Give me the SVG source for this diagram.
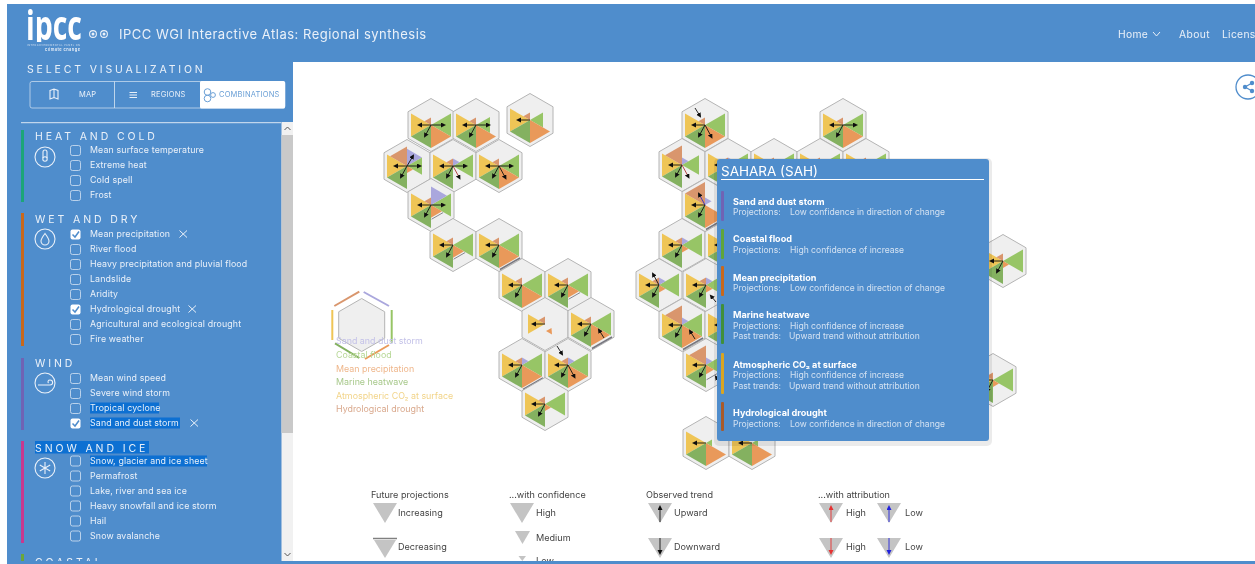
<svg xmlns="http://www.w3.org/2000/svg" width="1255" height="564" viewBox="0 0 1255 564">
<style>
text{font-family:"Inter","Open Sans","Liberation Sans",sans-serif;fill:#eaf1f9}
.it{font-size:8.8px;letter-spacing:.15px}
.cat{font-size:10.5px;letter-spacing:2.9px}
.cb{fill:none;stroke:#c5d9ee;stroke-width:.9}
.ck{fill:#fff}
.ckm{fill:none;stroke:#508dcc;stroke-width:1.5}
.x{stroke:#eaf1f9;stroke-width:1;fill:none}
.ic{fill:none;stroke:#eaf1f9;stroke-width:1.1}
.hl{fill:#0b6fd2}
.tab{font-size:7.5px;letter-spacing:.2px}
.a{stroke:#111;stroke-width:.9;fill:none;marker-end:url(#h)}
.lg{font-size:9.1px;fill:#444}
.tri{fill:#c4c4c4}
.pn{font-size:9.1px;fill:#fff;font-weight:700}
.pv{font-size:8.55px;fill:#d3e2f2}
.lt{font-size:8.9px}
</style>
<defs>
<filter id="soft" x="0" y="0" width="100%" height="100%"><feGaussianBlur stdDeviation=".3"/></filter>
<clipPath id="logoclip"><rect x="20" y="8" width="70" height="34"/></clipPath>
<marker id="h" markerUnits="userSpaceOnUse" markerWidth="6" markerHeight="6" refX="3" refY="2.5" orient="auto"><path d="M0 0L5 2.5L0 5Z" fill="#111"/></marker>
<marker id="hr" markerUnits="userSpaceOnUse" markerWidth="6" markerHeight="6" refX="3" refY="2.5" orient="auto"><path d="M0 0L5 2.5L0 5Z" fill="#e53030"/></marker>
<marker id="hb" markerUnits="userSpaceOnUse" markerWidth="6" markerHeight="6" refX="3" refY="2.5" orient="auto"><path d="M0 0L5 2.5L0 5Z" fill="#2222dd"/></marker>
<polygon id="hex" points="0,-26.5 23,-13.25 23,13.25 0,26.5 -23,13.25 -23,-13.25" fill="#efefef" stroke="#b4b4b4" stroke-width="1"/>
<path id="P" d="M0 0L0-23L20-11.5Z" fill="#aaa7dd"/>
<path id="G" d="M0 0L20-11.5L20 11.5Z" fill="#97c566"/>
<path id="O" d="M0 0L20 11.5L0 23Z" fill="#e9995a"/>
<path id="D" d="M0 0L0 23L-20 11.5Z" fill="#84b161"/>
<path id="Y" d="M0 0L-20 11.5L-20-11.5Z" fill="#efc557"/>
<path id="B" d="M0 0L-20-11.5L0-23Z" fill="#d9966d"/>
<path id="Bar" d="M1 24.5L21 13" stroke="#77777f" stroke-width="1.5" fill="none"/>
<path id="L" class="a" d="M0 0H-12"/>
<path id="R" class="a" d="M0 0H13"/>
<path id="DL" class="a" d="M0 0L-6 11"/>
<path id="DR" class="a" d="M0 0L6.5 12"/>
<path id="UR" class="a" d="M0 0L6-10"/>
<path id="UL" class="a" d="M0 0L-6-11"/>
<g id="base"><use href="#hex"/><use href="#Y"/><use href="#B" transform="scale(.33)"/><use href="#G"/><use href="#D"/></g>
<g id="baseP"><use href="#base"/><use href="#P" transform="scale(.33)"/></g>
<path id="tdown" class="tri" d="M0 0H24L12 20Z"/>
</defs>
<g filter="url(#soft)">
<rect width="1255" height="564" fill="#fff"/>
<rect x="7" y="4" width="1248" height="58" fill="#508dcc"/>
<rect x="7" y="62" width="286" height="502" fill="#508dcc"/>
<rect x="281.500" y="122" width="11.500" height="442" fill="#f1f1f1"/>
<rect x="281.500" y="135" width="11.500" height="298" fill="#c9c9c9"/>
<path d="M284.500 130L287.500 127L290.500 130M284.500 553L287.500 556L290.500 553" fill="none" stroke="#555" stroke-width="1"/>

<g id="header">
<text x="26" y="40" clip-path="url(#logoclip)" style="font-family:'Open Sans',sans-serif;font-size:41px;font-weight:700;fill:#fff" textLength="56" lengthAdjust="spacingAndGlyphs">ipcc</text>
<text x="27" y="45.500" style="font-size:2.5px" textLength="53" fill-opacity=".8">INTERGOVERNMENTAL PANEL ON</text>
<text x="45" y="51" style="font-size:4px;font-weight:600" textLength="35">climate change</text>
<circle cx="93" cy="34" r="3.400" class="ic"/><circle cx="104" cy="34" r="3.400" class="ic"/><circle cx="93" cy="34" r="1.500" fill="#eaf1f9"/><circle cx="104" cy="34" r="1.500" fill="#eaf1f9"/>
<text x="119" y="38.500" style="font-size:13px;letter-spacing:.5px">IPCC WGI Interactive Atlas: Regional synthesis</text>
<text x="1118" y="37.500" style="font-size:10.300px;letter-spacing:.3px">Home</text>
<path d="M1153 32L1156.500 36L1160 32" class="x"/>
<text x="1179" y="37.500" style="font-size:10.300px;letter-spacing:.4px">About</text>
<text x="1222" y="37.500" style="font-size:10.300px;letter-spacing:.3px">Licens</text>
</g>

<g id="share">
<circle cx="1248" cy="87" r="12" fill="#fff" stroke="#508dcc" stroke-width="1.300"/>
<path d="M1245 87L1252 83M1245 87L1252 91" stroke="#508dcc" stroke-width="1.200"/>
<circle cx="1245" cy="87" r="2.200" fill="#508dcc"/><circle cx="1252" cy="83" r="2.200" fill="#508dcc"/><circle cx="1252" cy="91" r="2.200" fill="#508dcc"/>
</g>

<g id="tabs">
<text x="27" y="73" style="font-size:10.500px;letter-spacing:2.850px">SELECT VISUALIZATION</text>
<rect x="30" y="81.500" width="255" height="26.500" rx="2" fill="none" stroke="#c5d9ee" stroke-width=".8"/>
<path d="M114.500 81.500V108" stroke="#dbe7f3" stroke-width=".8"/>
<rect x="200" y="81" width="85" height="27.500" rx="1.500" fill="#fff"/>
<path d="M50 90.500L54 89L58 90.500V99L54 97.500L50 99ZM54 89V97.500" class="ic"/>
<path d="M129.500 92.500H137M129.500 95H137M129.500 97.500H137" class="ic"/>
<circle cx="207.500" cy="92" r="3.300" fill="none" stroke="#6ba0d6"/><circle cx="207.500" cy="98.500" r="3.300" fill="none" stroke="#6ba0d6"/><circle cx="213" cy="95" r="2.400" fill="none" stroke="#6ba0d6"/>
<text x="79" y="97" class="tab">MAP</text>
<text x="151" y="97" class="tab">REGIONS</text>
<text x="219" y="97" class="tab" style="fill:#6ba0d6">COMBINATIONS</text>
<path d="M21 122.700H281" stroke="#dbe7f3" stroke-width="1"/>
</g>

<g id="cat-heat">
<rect x="21" y="130" width="3" height="72" fill="#1fa578"/>
<text x="35" y="140" class="cat">HEAT AND COLD</text>
<circle cx="45" cy="157" r="10" class="ic"/><circle cx="45" cy="159" r="2.200" class="ic"/><path d="M43 158V152A2 2 0 0 1 47 152V158" class="ic"/>
<rect x="70.500" y="145.500" width="10" height="10" rx="2" class="cb"/><text x="90" y="153.300" class="it">Mean surface temperature</text>
<rect x="70.500" y="160.500" width="10" height="10" rx="2" class="cb"/><text x="90" y="168.300" class="it">Extreme heat</text>
<rect x="70.500" y="175.500" width="10" height="10" rx="2" class="cb"/><text x="90" y="183.300" class="it">Cold spell</text>
<rect x="70.500" y="190.500" width="10" height="10" rx="2" class="cb"/><text x="90" y="198.300" class="it">Frost</text>
</g>

<g id="cat-wet">
<rect x="21" y="213" width="3" height="133" fill="#c8681f"/>
<text x="35" y="223" class="cat">WET AND DRY</text>
<circle cx="45" cy="239" r="10" class="ic"/><path d="M45 233.500C48 237.500 49 239 49 241A4 4 0 0 1 41 241C41 239 42 237.500 45 233.500Z" class="ic"/>
<rect x="70.500" y="229.500" width="10" height="10" rx="2" class="ck"/><path d="M72.500 234.500L75 237L79 231.500" class="ckm"/><text x="90" y="237.300" class="it">Mean precipitation</text><path d="M179.500 230.500L187 237.500M187 230.500L179.500 237.500" class="x"/>
<rect x="70.500" y="244.500" width="10" height="10" rx="2" class="cb"/><text x="90" y="252.300" class="it">River flood</text>
<rect x="70.500" y="259.500" width="10" height="10" rx="2" class="cb"/><text x="90" y="267.300" class="it">Heavy precipitation and pluvial flood</text>
<rect x="70.500" y="274.500" width="10" height="10" rx="2" class="cb"/><text x="90" y="282.300" class="it">Landslide</text>
<rect x="70.500" y="289.500" width="10" height="10" rx="2" class="cb"/><text x="90" y="297.300" class="it">Aridity</text>
<rect x="70.500" y="304.500" width="10" height="10" rx="2" class="ck"/><path d="M72.500 309.500L75 312L79 306.500" class="ckm"/><text x="90" y="312.300" class="it">Hydrological drought</text><path d="M188.500 305.500L196 312.500M196 305.500L188.500 312.500" class="x"/>
<rect x="70.500" y="319.500" width="10" height="10" rx="2" class="cb"/><text x="90" y="327.300" class="it">Agricultural and ecological drought</text>
<rect x="70.500" y="334.500" width="10" height="10" rx="2" class="cb"/><text x="90" y="342.300" class="it">Fire weather</text>
</g>

<g id="cat-wind">
<rect x="21" y="358" width="3" height="72" fill="#6f63b4"/>
<text x="35" y="367" class="cat">WIND</text>
<circle cx="45" cy="383" r="10" class="ic"/><path d="M38 385H50C53.500 385 53.500 380 50 380C48 380 47.500 382 48.500 383" class="ic"/>
<rect x="70.500" y="373.500" width="10" height="10" rx="2" class="cb"/><text x="90" y="381.300" class="it">Mean wind speed</text>
<rect x="70.500" y="388.500" width="10" height="10" rx="2" class="cb"/><text x="90" y="396.300" class="it">Severe wind storm</text>
<rect x="90" y="402.500" width="69" height="11" class="hl"/>
<rect x="70.500" y="403.500" width="10" height="10" rx="2" class="cb"/><text x="90" y="411.300" class="it">Tropical cyclone</text>
<rect x="90" y="417.500" width="90" height="11" class="hl"/>
<rect x="70.500" y="418.500" width="10" height="10" rx="2" class="ck"/><path d="M72.500 423.500L75 426L79 420.500" class="ckm"/><text x="90" y="426.300" class="it">Sand and dust storm</text><path d="M190.500 419.500L198 426.500M198 419.500L190.500 426.500" class="x"/>
</g>

<g id="cat-snow">
<rect x="21" y="441" width="3" height="102" fill="#c8398f"/>
<rect x="35" y="441" width="114" height="12.500" class="hl"/>
<text x="35" y="451.500" class="cat">SNOW AND ICE</text>
<circle cx="45" cy="468" r="10" class="ic"/><path d="M45 462V474M39.800 465L50.200 471M39.800 471L50.200 465" class="ic"/>
<rect x="90" y="455.500" width="117" height="11" class="hl"/>
<rect x="70.500" y="456" width="10" height="10" rx="2" class="cb"/><text x="90" y="464.300" class="it">Snow, glacier and ice sheet</text>
<rect x="70.500" y="471" width="10" height="10" rx="2" class="cb"/><text x="90" y="479.300" class="it">Permafrost</text>
<rect x="70.500" y="486" width="10" height="10" rx="2" class="cb"/><text x="90" y="494.300" class="it">Lake, river and sea ice</text>
<rect x="70.500" y="501" width="10" height="10" rx="2" class="cb"/><text x="90" y="509.300" class="it">Heavy snowfall and ice storm</text>
<rect x="70.500" y="516" width="10" height="10" rx="2" class="cb"/><text x="90" y="524.300" class="it">Hail</text>
<rect x="70.500" y="531" width="10" height="10" rx="2" class="cb"/><text x="90" y="539.300" class="it">Snow avalanche</text>
</g>

<g id="cat-coastal">
<rect x="21" y="554" width="3" height="7" fill="#6aa63a"/>
<text x="35" y="565.500" class="cat">COASTAL</text>
</g>

<g id="hex-legend">
<use href="#hex" x="361.700" y="325"/>
<path d="M363.700 292L389 306" stroke="#aaa7dd" stroke-width="2" fill="none"/>
<path d="M391.700 310V342.700" stroke="#97c566" stroke-width="2" fill="none"/>
<path d="M389 345L365 359" stroke="#e9995a" stroke-width="2" fill="none"/>
<path d="M359.300 358L335 343.300" stroke="#84b161" stroke-width="2" fill="none"/>
<path d="M332.300 340V310" stroke="#efc557" stroke-width="2" fill="none"/>
<path d="M334.300 306L359.300 291.700" stroke="#d9966d" stroke-width="2" fill="none"/>
<text x="336" y="344" class="lt" style="fill:#c3c1e8">Sand and dust storm</text>
<text x="336" y="358" class="lt" style="fill:#b6d795">Coastal flood</text>
<text x="336" y="372" class="lt" style="fill:#efb78c">Mean precipitation</text>
<text x="336" y="385" class="lt" style="fill:#a8c98c">Marine heatwave</text>
<text x="336" y="399" class="lt" style="fill:#f2d489">Atmospheric CO₂ at surface</text>
<text x="336" y="412" class="lt" style="fill:#d9a88c">Hydrological drought</text>
</g>

<g id="hexes-left">
<g id="h1" transform="translate(431 125)"><use href="#base"/><use href="#O"/><use href="#L"/><use href="#R"/><use href="#DL"/></g>
<g id="h2" transform="translate(476 125)"><use href="#hex"/><use href="#Y"/><use href="#B" transform="scale(.33)"/><use href="#G" transform="scale(.7)"/><use href="#O"/><use href="#D"/><use href="#L"/><use href="#R"/><use href="#DL"/></g>
<g id="h3" transform="translate(530 120)"><use href="#hex"/><use href="#Y"/><use href="#B" transform="scale(.33)"/><use href="#G" transform="scale(.65)"/><use href="#O"/><use href="#D"/><use href="#L"/></g>
<g id="h4" transform="translate(407 166)"><use href="#hex"/><use href="#Y"/><use href="#B" transform="scale(.85)"/><use href="#P" transform="scale(.75)"/><use href="#G" transform="scale(.75)"/><use href="#O" transform="scale(.3)"/><use href="#D"/><use href="#L"/><use href="#R"/><use href="#DL"/><use href="#UR"/></g>
<g id="h5" transform="translate(453 166)"><use href="#baseP"/><path d="M0 0L6.500 12" class="a" style="stroke:#a33"/><use href="#L"/><use href="#R"/><use href="#DL"/></g>
<g id="h6" transform="translate(499 166)"><use href="#base"/><use href="#O"/><use href="#L"/><use href="#R"/><use href="#DL"/><use href="#DR"/></g>
<g id="h7" transform="translate(431 205)"><use href="#base"/><use href="#P" transform="scale(.8)"/><use href="#O" transform="scale(.55)"/><use href="#Bar" transform="scale(.58)"/><use href="#L"/><use href="#R"/><use href="#DL"/></g>
<g id="h8" transform="translate(453 245)"><use href="#base"/><use href="#O" transform="scale(.55)"/><use href="#Bar" transform="scale(.58)"/><use href="#L"/><use href="#DL"/></g>
<g id="h9" transform="translate(499 245)"><use href="#base"/><use href="#O"/><use href="#Bar"/><use href="#L"/><use href="#DL"/></g>
<g id="h10" transform="translate(522 285)"><use href="#base"/><use href="#O"/><use href="#L"/><use href="#DL"/></g>
<g id="h11" transform="translate(568 285)"><use href="#base"/><use href="#O" transform="scale(.55)"/><use href="#Bar" transform="scale(.58)"/><use href="#L"/><use href="#DL"/></g>
<g id="h12" transform="translate(545 324)"><use href="#hex"/><use href="#Y" transform="scale(.85)"/><use href="#B" transform="scale(.33)"/><path d="M1 7L6.500 4L7 10.500Z" fill="#e9995a"/><use href="#L"/></g>
<g id="h13" transform="translate(591 324)"><use href="#base"/><use href="#O" transform="scale(.95)"/><use href="#Bar"/><path d="M13 14L8 6" class="a"/><use href="#L"/><use href="#DL"/></g>
<g id="h14" transform="translate(522 365)"><use href="#baseP"/><use href="#O"/><use href="#Bar"/><use href="#L"/><use href="#DL"/></g>
<g id="h15" transform="translate(568 365)"><use href="#baseP"/><use href="#O"/><use href="#L"/><use href="#DL"/><use href="#DR"/></g>
<g id="h16" transform="translate(545 404)"><use href="#base"/><use href="#O" transform="scale(.3)"/><use href="#L"/><use href="#DL"/></g>
<path id="h12-arrow" d="M557 346L562 354" class="a"/>
</g>

<g id="hexes-right">
<g id="h17" transform="translate(705 125)"><use href="#base"/><use href="#O"/><use href="#L"/><use href="#DL"/><use href="#DR"/><path d="M-10-17L-5-9" class="a"/></g>
<g id="h18" transform="translate(682 165)"><use href="#hex"/><use href="#Y"/><use href="#B" transform="scale(.85)"/><use href="#P" transform="scale(.33)"/><use href="#G" transform="scale(.85)"/><use href="#D"/><use href="#L"/><use href="#DL"/><path d="M0 0L6.500 12" class="a" style="stroke:#a33"/></g>
<g id="h19" transform="translate(728 165)"><use href="#baseP"/><use href="#L"/></g>
<g id="h20" transform="translate(705 205)"><use href="#hex"/><use href="#Y"/><use href="#B"/><use href="#P" transform="scale(.33)"/><use href="#O"/><use href="#Bar"/><use href="#D"/><path d="M0 0L-6-11" class="a" style="stroke:#3a2fc0"/><use href="#L"/><use href="#DL"/></g>
<g id="h21" transform="translate(682 245)"><use href="#baseP"/><use href="#O" transform="scale(.33)"/><use href="#L"/><use href="#DL"/></g>
<g id="h22" transform="translate(728 245)"><use href="#baseP"/><use href="#L"/></g>
<g id="h23" transform="translate(659 285)"><use href="#baseP"/><use href="#O" transform="scale(.33)"/><use href="#L"/><use href="#DL"/><use href="#UL"/></g>
<g id="h24" transform="translate(706 285)"><use href="#baseP"/><use href="#O" transform="scale(.33)"/><use href="#L"/><use href="#DL"/><path d="M10 17L5 11" class="a"/></g>
<g id="h25" transform="translate(682 325)"><use href="#hex"/><use href="#Y"/><use href="#B" transform="scale(.85)"/><use href="#P" transform="scale(.33)"/><use href="#G"/><use href="#O"/><use href="#Bar"/><use href="#D"/><path d="M13 14L8 6" class="a"/><use href="#L"/><use href="#DL"/></g>
<g id="h26" transform="translate(728 325)"><use href="#baseP"/><use href="#L"/></g>
<g id="h27" transform="translate(706 365)"><use href="#hex"/><use href="#Y"/><use href="#B" transform="scale(.85)"/><use href="#P" transform="scale(.33)"/><use href="#G"/><use href="#O" transform="scale(.4)"/><use href="#Bar" transform="scale(.6)"/><use href="#D"/><use href="#L"/><use href="#DL"/><path d="M15 19L10 12" class="a"/></g>
<g id="h28" transform="translate(706 443)"><use href="#hex"/><use href="#Y"/><use href="#G" transform="scale(.3)"/><use href="#O"/><use href="#D"/><use href="#L"/></g>
<g id="h29" transform="translate(752 443)"><use href="#hex"/><use href="#Y"/><use href="#G" transform="scale(.3)"/><use href="#O"/><use href="#D"/><use href="#L"/></g>
<g id="h30" transform="translate(843 125)"><use href="#base"/><use href="#O"/><use href="#L"/><use href="#R"/><use href="#DL"/></g>
<g id="h31" transform="translate(774 165)"><use href="#base"/></g>
<g id="h32" transform="translate(820 165)"><use href="#base"/></g>
<g id="h33" transform="translate(866 165)"><use href="#base"/></g>
<g id="h34" transform="translate(1003 261)"><use href="#base"/><use href="#O" transform="scale(.3)"/><use href="#L"/><use href="#DL"/></g>
<g id="h35" transform="translate(993 380)"><use href="#base"/><use href="#O" transform="scale(.3)"/><use href="#L"/><use href="#DL"/></g>
</g>

<g id="key">
<text x="371" y="497.500" class="lg">Future projections</text>
<text x="509" y="497.500" class="lg">...with confidence</text>
<text x="646" y="497.500" class="lg">Observed trend</text>
<text x="818" y="497.500" class="lg">...with attribution</text>
<use href="#tdown" x="373" y="503"/><text x="398" y="516" class="lg">Increasing</text>
<path d="M373 538.500H397" stroke="#808080" stroke-width="1.500"/><path class="tri" d="M374 540H396L385 558Z"/><text x="398" y="550" class="lg">Decreasing</text>
<use href="#tdown" x="510" y="503"/><text x="536" y="516" class="lg">High</text>
<path class="tri" d="M515 531H530L522.500 544Z"/><text x="536" y="541" class="lg">Medium</text>
<path class="tri" d="M518.500 556H526L522.300 561Z"/><text x="536" y="564" class="lg">Low</text>
<use href="#tdown" x="648" y="503"/><path d="M660 522V507" class="a"/><text x="674" y="516" class="lg">Upward</text>
<use href="#tdown" x="648" y="538"/><path d="M660 538V553" class="a"/><text x="674" y="550" class="lg">Downward</text>
<use href="#tdown" x="819" y="503"/><path d="M831 522V507" class="a" style="stroke:#e53030;marker-end:url(#hr)"/><text x="846" y="516" class="lg">High</text>
<use href="#tdown" x="877" y="503"/><path d="M889 522V507" class="a" style="stroke:#2222dd;marker-end:url(#hb)"/><text x="905" y="516" class="lg">Low</text>
<use href="#tdown" x="819" y="538"/><path d="M831 538V553" class="a" style="stroke:#e53030;marker-end:url(#hr)"/><text x="846" y="550" class="lg">High</text>
<use href="#tdown" x="877" y="538"/><path d="M889 538V553" class="a" style="stroke:#2222dd;marker-end:url(#hb)"/><text x="905" y="550" class="lg">Low</text>
</g>
<rect x="7" y="561" width="1248" height="3" fill="#508dcc"/>

<g id="panel">
<rect x="714" y="158" width="278" height="288" rx="5" fill="#000" fill-opacity=".08"/>
<rect x="717" y="159" width="272" height="282" rx="3" fill="#508dcc"/>
<text x="721" y="176" style="font-size:13.500px;fill:#fff">SAHARA (SAH)</text>
<path d="M721 179.500H984" stroke="#fff" stroke-width="1.200"/>
<rect x="721" y="191" width="3" height="30" rx="1" fill="#6f63b4"/>
<rect x="721" y="229" width="3" height="30" rx="1" fill="#5fa53a"/>
<rect x="721" y="266" width="3" height="30" rx="1" fill="#c8681f"/>
<rect x="721" y="304" width="3" height="40" rx="1" fill="#3f8f3a"/>
<rect x="721" y="353" width="3" height="41" rx="1" fill="#d9a520"/>
<rect x="721" y="402" width="3" height="29" rx="1" fill="#a85a2a"/>
<text x="733" y="204.500" class="pn">Sand and dust storm</text><text x="733" y="215" class="pv">Projections:</text><text x="790" y="215" class="pv">Low confidence in direction of change</text>
<text x="733" y="242" class="pn">Coastal flood</text><text x="733" y="253" class="pv">Projections:</text><text x="790" y="253" class="pv">High confidence of increase</text>
<text x="733" y="280.500" class="pn">Mean precipitation</text><text x="733" y="291" class="pv">Projections:</text><text x="790" y="291" class="pv">Low confidence in direction of change</text>
<text x="733" y="317.500" class="pn">Marine heatwave</text><text x="733" y="328.500" class="pv">Projections:</text><text x="790" y="328.500" class="pv">High confidence of increase</text><text x="733" y="338.500" class="pv">Past trends:</text><text x="789" y="338.500" class="pv">Upward trend without attribution</text>
<text x="733" y="367.500" class="pn">Atmospheric CO₂ at surface</text><text x="733" y="378" class="pv">Projections:</text><text x="790" y="378" class="pv">High confidence of increase</text><text x="733" y="388.500" class="pv">Past trends:</text><text x="789" y="388.500" class="pv">Upward trend without attribution</text>
<text x="733" y="415.500" class="pn">Hydrological drought</text><text x="733" y="426.500" class="pv">Projections:</text><text x="790" y="426.500" class="pv">Low confidence in direction of change</text>
</g>
</g>
</svg>
